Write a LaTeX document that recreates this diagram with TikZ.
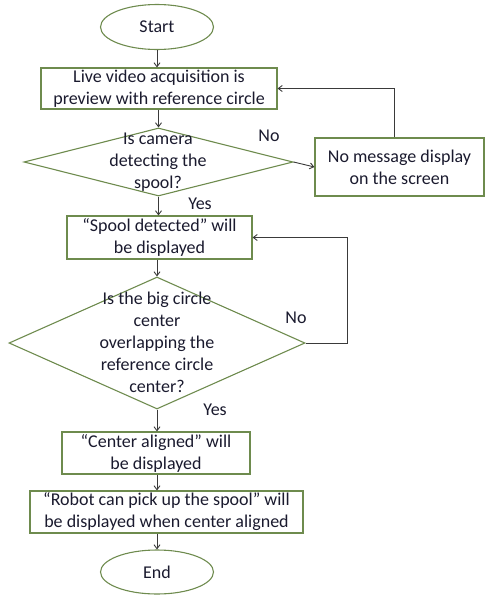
\documentclass[tikz,border=0pt]{standalone}
\usepackage{fontspec}
\setmainfont{Carlito}
\usetikzlibrary{shapes.geometric,arrows.meta}
\definecolor{boxgreen}{HTML}{6E8B4E}
\definecolor{txt}{HTML}{1A1A2E}
\definecolor{linec}{HTML}{3A3A3A}
\begin{document}
\begin{tikzpicture}[x=1pt,y=-1pt,
 every node/.style={font=\fontsize{18}{22}\selectfont, text=txt},
 proc/.style={draw=boxgreen, line width=1.1pt, rectangle, inner sep=0pt, align=center},
 term/.style={draw=boxgreen, line width=1.1pt, ellipse, inner sep=0pt, minimum width=113pt, minimum height=45pt},
 dec/.style={draw=boxgreen, line width=1.1pt, diamond, inner sep=0pt},
 lbl/.style={inner sep=0pt, align=center},
 conn/.style={draw=linec, line width=0.9pt, -{Straight Barb[length=4pt,width=6pt]}},
 loopline/.style={draw=linec, line width=0.9pt, -{Straight Barb[length=4pt,width=6pt]}}
]
\useasboundingbox (0,0) rectangle (485,595);

\node[term] (start) at (157,27) {Start};
\node[proc, minimum width=236pt, minimum height=41pt] (box1) at (159,88.5) {Live video acquisition is\\preview with reference circle};
\node[dec, minimum width=269pt, minimum height=68pt] (d1) at (158.5,162) {};
\node[lbl] (d1t) at (158,162) {Is camera\\detecting the\\spool?};
\node[proc, minimum width=169pt, minimum height=58pt] (box2) at (399.5,167) {No message display\\on the screen};
\node[proc, minimum width=185pt, minimum height=43pt] (box3) at (159.5,237.5) {“Spool detected” will\\be displayed};
\node[dec, minimum width=296pt, minimum height=132pt] (d2) at (157,343) {};
\node[lbl] (d2t) at (157,342.5) {Is the big circle\\center\\overlapping the\\reference circle\\center?};
\node[proc, minimum width=188pt, minimum height=42pt] (box4) at (156,453) {“Center aligned” will\\be displayed};
\node[proc, minimum width=273pt, minimum height=42pt] (box5) at (166.5,512) {“Robot can pick up the spool” will\\be displayed when center aligned};
\node[term, minimum height=44pt] (end) at (157,572) {End};

\node[lbl] (no1) at (269,136) {No};
\node[lbl] (yes1) at (200,204) {Yes};
\node[lbl] (no2) at (296,318) {No};
\node[lbl] (yes2) at (215,410) {Yes};

\draw[conn] (start.south) -- (start.south |- box1.north);
\draw[conn] (d1.north |- box1.south) -- (d1.north);
\draw[conn] (d1.east) -- (box2.west);
\draw[loopline] ([xshift=-5pt]box2.north) |- (box1.east);
\draw[conn] (d1.south) -- (d1.south |- box3.north);
\draw[conn] (d2.north |- box3.south) -- (d2.north);
\draw[loopline] (d2.east) -- ++(42,0) |- (box3.east);
\draw[conn] (d2.south) -- (d2.south |- box4.north);
\draw[conn] (d2.south |- box4.south) -- (d2.south |- box5.north);
\draw[conn] (end.north |- box5.south) -- (end.north);
\end{tikzpicture}
\end{document}
